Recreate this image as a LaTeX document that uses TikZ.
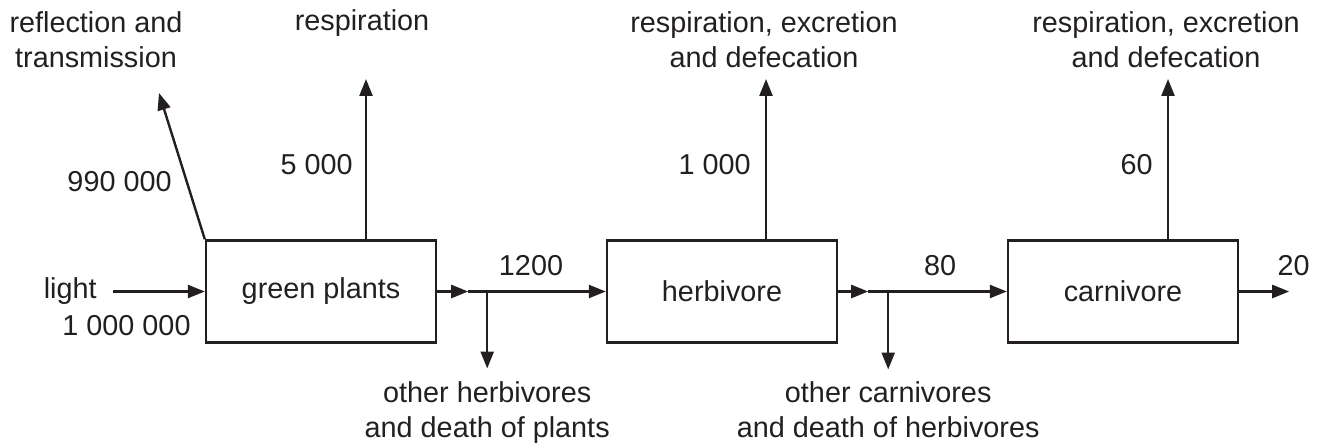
\documentclass[tikz,border=0pt]{standalone}
\usepackage{fontspec}
\setmainfont{Liberation Sans}
\usepackage{tikz}
\usetikzlibrary{arrows.meta}
\usetikzlibrary{calc,positioning}
\definecolor{ink}{RGB}{35,31,32}
\newcommand\flowfont{\fontsize{14.4pt}{17.5pt}\selectfont}

\begin{document}
\begin{tikzpicture}[x=0.5pt, y=-0.5pt,
            stage/.style={rectangle, draw=ink, line width=1.2pt, minimum width=115pt,
            minimum height=51pt, text=ink, font=\flowfont},
            note/.style={text=ink, font=\flowfont, inner sep=0pt, align=center},
            flow/.style={draw=ink, line width=1.2pt, -{Triangle[length=8.5pt,width=6.5pt]}}]
            \useasboundingbox (0,0) rectangle (1325,444);

            \node (plants) [stage] at (321,291.5) {green plants};
            \node (herbivore) [stage, right=84.3pt of plants] {herbivore};
            \node (carnivore) [stage, right=84.3pt of herbivore] {carnivore};

            % light coming in
            \coordinate (light src) at (113,291.5);
            \draw [flow] (light src) -- (plants.west);
            \node (light) [note, left=8pt of light src] {light};
            \node (light val) [note] at (126.5,326) {1 000 000};

            % losses upwards
            \coordinate (refl tip) at (159,93);
            \draw [flow] (plants.north west) -- (refl tip);
            \node (refl) [note] at (96,40) {reflection and\\transmission};
            \node (refl val) [note, anchor=east] at (172,182) {990 000};

            \coordinate (resp1 tip) at (366,79);
            \draw [flow] (resp1 tip |- plants.north) -- (resp1 tip);
            \node (resp1) [note] at (362,23) {respiration};
            \node (resp1 val) [note, anchor=east] at (353,165) {5 000};

            \coordinate (resp2 tip) at (766,79);
            \draw [flow] (resp2 tip |- herbivore.north) -- (resp2 tip);
            \node (resp2) [note] at (764,40) {respiration, excretion\\and defecation};
            \node (resp2 val) [note, anchor=east] at (751,165) {1 000};

            \coordinate (resp3 tip) at (1168,79);
            \draw [flow] (resp3 tip |- carnivore.north) -- (resp3 tip);
            \node (resp3) [note] at (1166,40) {respiration, excretion\\and defecation};
            \node (resp3 val) [note, anchor=east] at (1153,165) {60};

            % plants to herbivore
            \coordinate (mid1) at ($(plants.east)+(31,0)$);
            \coordinate (split1) at ($(plants.east)+(50,0)$);
            \coordinate (drop1) at ($(split1)+(0,77)$);
            \draw [flow] (plants.east) -- (mid1);
            \draw [flow] (mid1) -- (herbivore.west);
            \draw [flow] (split1) -- (drop1);
            \node (loss1) [note, below=6.5pt of drop1] {other herbivores\\and death of plants};
            \node (flow1) [note] at (531,266) {1200};

            % herbivore to carnivore
            \coordinate (mid2) at ($(herbivore.east)+(30,0)$);
            \coordinate (split2) at ($(herbivore.east)+(50,0)$);
            \coordinate (drop2) at ($(split2)+(0,78)$);
            \draw [flow] (herbivore.east) -- (mid2);
            \draw [flow] (mid2) -- (carnivore.west);
            \draw [flow] (split2) -- (drop2);
            \node (loss2) [note, below=6pt of drop2] {other carnivores\\and death of herbivores};
            \node (flow2) [note] at (940,266) {80};

            % out of carnivore
            \coordinate (out tip) at ($(carnivore.east)+(50,0)$);
            \draw [flow] (carnivore.east) -- (out tip);
            \node (flow3) [note] at (1293.5,266) {20};
        \end{tikzpicture}
\end{document}
